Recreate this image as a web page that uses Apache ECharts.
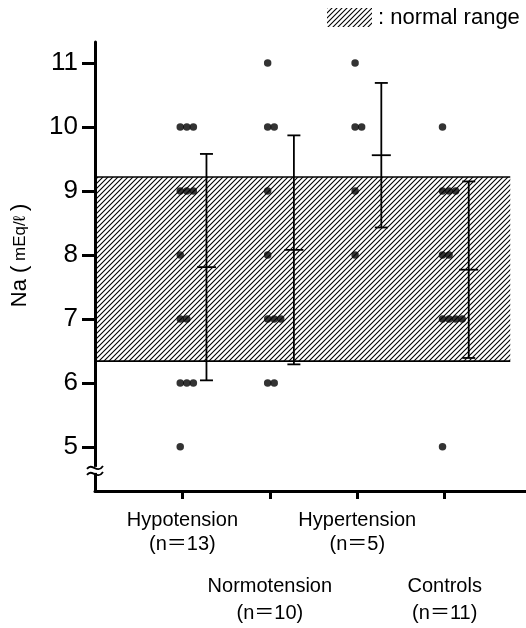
<!DOCTYPE html>
<html>
<head>
<meta charset="utf-8">
<script src="https://cdn.jsdelivr.net/npm/echarts@6/dist/echarts.min.js"></script>
<style>
html,body{margin:0;padding:0;background:#fff;}
#chart{width:526px;height:628px;}
</style>
</head>
<body>
<div id="chart"></div>
<script>
// ---- data ----
const categories = ['Hypotension', 'Normotension', 'Hypertension', 'Controls'];
const counts = [13, 10, 5, 11];
const hypotension = [10, 10, 10, 9, 9, 9, 8, 7, 7, 6, 6, 6, 5];
const normotension = [11, 10, 10, 9, 8, 7, 7, 7, 6, 6];
const hypertension = [11, 10, 10, 9, 8];
const controls = [10, 9, 9, 9, 8, 8, 7, 7, 7, 7, 5];
const means = [7.81, 8.08, 9.56, 7.77];
const sds = [1.77, 1.79, 1.13, 1.38];
const normalRange = [6.34, 9.22];
const yTicks = [5, 6, 7, 8, 9, 10, 11];
const xTicksUpperRow = [1, 3];   // Hypotension, Hypertension
const xTicksLowerRow = [2, 4];   // Normotension, Controls

const groups = [hypotension, normotension, hypertension, controls];
const FONT = '"Liberation Sans", Arial, "Noto Sans CJK JP", sans-serif';

function makeHatch(size, lw) {
  const c = document.createElement('canvas');
  c.width = size; c.height = size;
  const g = c.getContext('2d');
  g.strokeStyle = '#000';
  g.lineWidth = lw;
  g.beginPath();
  g.moveTo(-1, 1); g.lineTo(1, -1);
  g.moveTo(0, size); g.lineTo(size, 0);
  g.moveTo(size - 1, size + 1); g.lineTo(size + 1, size - 1);
  g.stroke();
  return c;
}
const hatch = { image: makeHatch(5, 1.1), repeat: 'repeat' };

// scatter points: dots with the same value lie side by side to the right
const dots = [];
groups.forEach(function (vals, gi) {
  const seen = {};
  vals.forEach(function (v) {
    const k = seen[v] || 0;
    seen[v] = k + 1;
    dots.push([gi + 1 - 0.025 + k * 0.075, v]);
  });
});
const bars = means.map(function (m, i) { return [i + 1 + 0.275, m, sds[i]]; });

function catLabel(v) {
  const i = Math.round(v) - 1;
  return '{t|' + categories[i] + '}\n{t|(n＝' + counts[i] + ')}';
}
const labelRichUpper = { t: { fontSize: 20, lineHeight: 24, fontFamily: FONT, color: '#000' } };
const labelRichLower = { t: { fontSize: 20, lineHeight: 27, fontFamily: FONT, color: '#000' } };

const chart = echarts.init(document.getElementById('chart'), null, { renderer: 'canvas' });

const option = {
  animation: false,
  backgroundColor: '#fff',
  grid: { left: 95, right: 0, top: 42, bottom: 137, outerBoundsMode: 'none' },
  xAxis: [
    {
      type: 'value', min: 0, max: 4.93, position: 'bottom',
      axisLine: { show: true, lineStyle: { color: '#000', width: 3 } },
      axisTick: { show: true, customValues: xTicksUpperRow, length: 8, lineStyle: { color: '#000', width: 3 } },
      splitLine: { show: false },
      axisLabel: { customValues: xTicksUpperRow, margin: 17, color: '#000', formatter: catLabel, rich: labelRichUpper }
    },
    {
      type: 'value', min: 0, max: 4.93, position: 'bottom', offset: 0,
      axisLine: { show: false },
      axisTick: { show: true, customValues: xTicksLowerRow, length: 8, lineStyle: { color: '#000', width: 3 } },
      splitLine: { show: false },
      axisLabel: { customValues: xTicksLowerRow, margin: 82, color: '#000', formatter: catLabel, rich: labelRichLower }
    }
  ],
  yAxis: {
    type: 'value', min: 4.31, max: 11.33,
    name: '{a|Na (}{b| mEq/ℓ }{a|)}',
    nameLocation: 'middle', nameGap: 64,
    nameTextStyle: {
      padding: [0, 0, 0, 22],
      rich: {
        a: { fontSize: 22, fontFamily: FONT, color: '#000' },
        b: { fontSize: 17, fontFamily: FONT, color: '#000' }
      }
    },
    axisLine: { show: true, lineStyle: { color: '#000', width: 3 } },
    axisTick: { show: true, customValues: yTicks, length: 13, lineStyle: { color: '#000', width: 3 } },
    splitLine: { show: false },
    axisLabel: { customValues: yTicks, margin: 17, fontSize: 26, fontFamily: FONT, color: '#000' }
  },
  series: [
    {
      type: 'custom', name: 'normal range', z: 1, xAxisIndex: 0,
      data: [[0, 4.75, normalRange[0], normalRange[1]]],
      renderItem: function (params, api) {
        const p1 = api.coord([api.value(0), api.value(3)]);
        const p2 = api.coord([api.value(1), api.value(2)]);
        return {
          type: 'group',
          children: [
            { type: 'rect', shape: { x: p1[0], y: p1[1], width: p2[0] - p1[0], height: p2[1] - p1[1] },
              style: { fill: hatch, stroke: null } },
            { type: 'line', shape: { x1: p1[0], y1: p1[1], x2: p2[0], y2: p1[1] },
              style: { stroke: '#000', lineWidth: 1.6 } },
            { type: 'line', shape: { x1: p1[0], y1: p2[1], x2: p2[0], y2: p2[1] },
              style: { stroke: '#000', lineWidth: 1.6 } }
          ]
        };
      }
    },
    {
      type: 'scatter', z: 3, xAxisIndex: 0, data: dots, symbol: 'circle', symbolSize: 7.5,
      itemStyle: { color: '#000' }
    },
    {
      type: 'custom', z: 4, xAxisIndex: 0, data: bars,
      renderItem: function (params, api) {
        const x = api.value(0), m = api.value(1), s = api.value(2);
        const top = api.coord([x, m + s]);
        const mid = api.coord([x, m]);
        const bot = api.coord([x, m - s]);
        const st = { stroke: '#000', lineWidth: 1.8 };
        return {
          type: 'group',
          children: [
            { type: 'line', shape: { x1: top[0], y1: top[1], x2: bot[0], y2: bot[1] }, style: st },
            { type: 'line', shape: { x1: top[0] - 6.5, y1: top[1], x2: top[0] + 6.5, y2: top[1] }, style: st },
            { type: 'line', shape: { x1: mid[0] - 9.5, y1: mid[1], x2: mid[0] + 9.5, y2: mid[1] }, style: st },
            { type: 'line', shape: { x1: bot[0] - 6.5, y1: bot[1], x2: bot[0] + 6.5, y2: bot[1] }, style: st }
          ]
        };
      }
    }
  ]
};
chart.setOption(option);

// axis break mark and legend key
const bp = chart.convertToPixel({ xAxisIndex: 0, yAxisIndex: 0 }, [0, 4.64]);
const bx = bp[0], by = bp[1];
chart.setOption({
  graphic: [
    { type: 'rect', shape: { x: bx - 4, y: by - 3, width: 8, height: 6 }, style: { fill: '#fff' }, z: 100 },
    { type: 'bezierCurve', z: 101,
      shape: { x1: bx - 8, y1: by - 1, cpx1: bx - 3, cpy1: by - 8, cpx2: bx + 2, cpy2: by + 5, x2: bx + 8, y2: by - 4 },
      style: { stroke: '#000', lineWidth: 1.8, fill: null } },
    { type: 'bezierCurve', z: 101,
      shape: { x1: bx - 8, y1: by + 5, cpx1: bx - 3, cpy1: by - 2, cpx2: bx + 2, cpy2: by + 11, x2: bx + 8, y2: by + 2 },
      style: { stroke: '#000', lineWidth: 1.8, fill: null } },
    { type: 'rect', shape: { x: 327, y: 8, width: 45, height: 19 }, style: { fill: hatch } },
    { type: 'text', x: 378, y: 18,
      style: { text: ': normal range', fontSize: 22, fontFamily: FONT, fill: '#000', verticalAlign: 'middle' } }
  ]
});
</script>
</body>
</html>
